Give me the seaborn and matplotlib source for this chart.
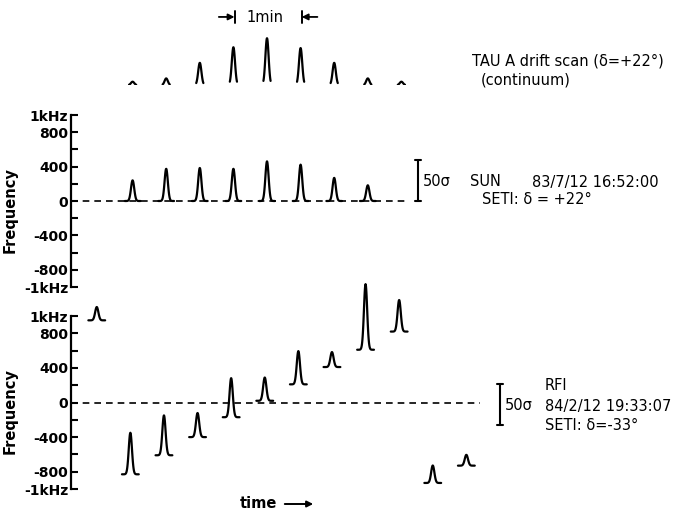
import numpy as np
import pandas as pd
import matplotlib
matplotlib.use("Agg")
import matplotlib.pyplot as plt
import seaborn as sns

sns.set_style("white")
plt.rcParams['font.family'] = ['DejaVu Sans']
plt.rcParams['text.color'] = 'black'
plt.rcParams['axes.labelcolor'] = 'black'

# ---------------- data ----------------
# TAU A drift scan (continuum): peak times (s) and heights (sigma)
tau_t = [55, 85, 115, 145, 175, 205, 235, 265, 295]
tau_h = [4, 8, 27, 46, 57, 45, 27, 8, 4]

# SUN 83/7/12: peak times (s), heights (sigma), offset frequency (Hz)
sun_t = [55, 85, 115, 145, 175, 205, 235, 265]
sun_h = [25, 39, 40, 39, 48, 44, 28, 19]
sun_f = [0, 0, 0, 0, 0, 0, 0, 0]

# RFI 84/2/12: peak times (s), heights (sigma), frequency (Hz)
rfi_t = [23, 53, 83, 113, 143, 173, 203, 233, 263, 293, 323, 353]
rfi_h = [16, 50, 48, 29, 47, 28, 40, 18, 79, 38, 21, 13]
rfi_f = [950, -830, -610, -400, -170, 20, 210, 410, 610, 820, -930, -730]

freq_ticks = [-1000, -800, -400, 0, 400, 800, 1000]
freq_labels = ["-1kHz", "-800", "-400", "0", "400", "800", "1kHz"]
freq_minor = [-600, -200, 200, 600]

SIGMA_HZ = 9.6      # one sigma expressed in the frequency-axis units
PEAK_W = 1.45       # peak width (s)

W, H = 677, 511
PXS = 1.12          # px per second
XL = 71
XMAX = (W - XL) / PXS


def peaks_frame(ts, hs, fs, scale, foot):
    rows = []
    for i, (t, h, f) in enumerate(zip(ts, hs, fs)):
        dt = np.linspace(-foot, foot, 81)
        y = f + h * scale * np.exp(-0.5 * (dt / PEAK_W) ** 2)
        for a, b in zip(t + dt, y):
            rows.append((i, a, b))
    return pd.DataFrame(rows, columns=["peak", "t", "y"])


fig = plt.figure(figsize=(W / 100, H / 100), dpi=100)


def px_ax(left, top, right, bottom):
    return fig.add_axes([left / W, 1 - bottom / H, (right - left) / W, (bottom - top) / H])


ax_top = px_ax(XL, 3, W, 85)
ax_mid = px_ax(XL, 115, W, 287)
ax_bot = px_ax(XL, 316, W, 489)

LW = 1.6

# top panel
df_top = peaks_frame(tau_t, tau_h, [0] * len(tau_t), 1.0, 3.2)
sns.lineplot(data=df_top, x="t", y="y", units="peak", estimator=None, sort=False,
             color="black", lw=LW, ax=ax_top)
ax_top.set_xlim(0, XMAX)
ax_top.set_ylim(0, 100)
ax_top.axis("off")
# 1 min marker
for tb, sgn in [(146, 1), (206, -1)]:
    ax_top.plot([tb, tb], [76, 90], color="black", lw=1.4, clip_on=False)
    ax_top.annotate("", xy=(tb, 83), xytext=(tb - sgn * 14, 83),
                    arrowprops=dict(arrowstyle="-|>", color="black", lw=1.3,
                                    mutation_scale=9, shrinkA=0, shrinkB=0),
                    annotation_clip=False)

# middle and bottom panels
def style_freq(ax):
    ax.set_xlim(0, XMAX)
    ax.set_ylim(-1000, 1000)
    for s in ["top", "right", "bottom"]:
        ax.spines[s].set_visible(False)
    ax.spines["left"].set_linewidth(1.6)
    ax.spines["left"].set_color("black")
    ax.set_xticks([])
    ax.set_yticks(freq_ticks)
    ax.set_yticklabels(freq_labels)
    ax.set_yticks(freq_minor, minor=True)
    ax.tick_params(axis="y", which="both", direction="in", length=5, width=1.5,
                   left=True, labelsize=10, pad=2, colors="black")
    for lab in ax.get_yticklabels():
        lab.set_fontweight("bold")
    ax.set_xlabel("")
    ax.set_ylabel("Frequency", fontsize=10.5, fontweight="bold", color="black")
    ax.yaxis.set_label_coords(-0.088, 0.45)
    ax.patch.set_alpha(0)


df_mid = peaks_frame(sun_t, sun_h, sun_f, SIGMA_HZ, 7.0)
ax_mid.hlines(0, 0, 298, colors="black", linestyles=(0, (4, 3)), lw=1.2)
sns.lineplot(data=df_mid, x="t", y="y", units="peak", estimator=None, sort=False,
             color="black", lw=LW, ax=ax_mid)
style_freq(ax_mid)
# 50 sigma bar
tb = (418 - XL) / PXS
ax_mid.plot([tb, tb], [0, 50 * SIGMA_HZ], color="black", lw=1.5)
ax_mid.plot([tb - 3, tb + 3], [0, 0], color="black", lw=1.5)
ax_mid.plot([tb - 3, tb + 3], [50 * SIGMA_HZ] * 2, color="black", lw=1.5)

df_bot = peaks_frame(rfi_t, rfi_h, rfi_f, SIGMA_HZ, 7.5)
ax_bot.hlines(0, 0, 365, colors="black", linestyles=(0, (4, 3)), lw=1.2)
sns.lineplot(data=df_bot, x="t", y="y", units="peak", estimator=None, sort=False,
             color="black", lw=LW, ax=ax_bot)
for l in ax_bot.lines:
    l.set_clip_on(False)
style_freq(ax_bot)
tb = (500 - XL) / PXS
lo, hi = -262, -262 + 50 * SIGMA_HZ
ax_bot.plot([tb, tb], [lo, hi], color="black", lw=1.5)
ax_bot.plot([tb - 3, tb + 3], [lo, lo], color="black", lw=1.5)
ax_bot.plot([tb - 3, tb + 3], [hi, hi], color="black", lw=1.5)

# ---------------- text ----------------
def ftxt(x, y, s, **kw):
    kw.setdefault("fontsize", 10.5)
    fig.text(x / W, 1 - y / H, s, va="center", ha="left", color="black", **kw)

ftxt(246, 17, "1min")
ftxt(472, 61, "TAU A drift scan (δ=+22°)")
ftxt(481, 80, "(continuum)")
ftxt(423, 182, "50σ")
ftxt(470, 182, "SUN")
ftxt(532, 182, "83/7/12 16:52:00")
ftxt(482, 200, "SETI: δ = +22°")
ftxt(545, 386, "RFI")
ftxt(505, 406, "50σ")
ftxt(545, 406, "84/2/12 19:33:07")
ftxt(545, 425, "SETI: δ=-33°")
ftxt(240, 503, "time", fontweight="bold")
fig.add_artist(matplotlib.patches.FancyArrowPatch(
    (282 / W, 1 - 504 / H), (316 / W, 1 - 504 / H), transform=fig.transFigure,
    arrowstyle="-|>", mutation_scale=9, lw=1.4, color="black"))

fig.savefig("out.png", dpi=100, facecolor="white")
